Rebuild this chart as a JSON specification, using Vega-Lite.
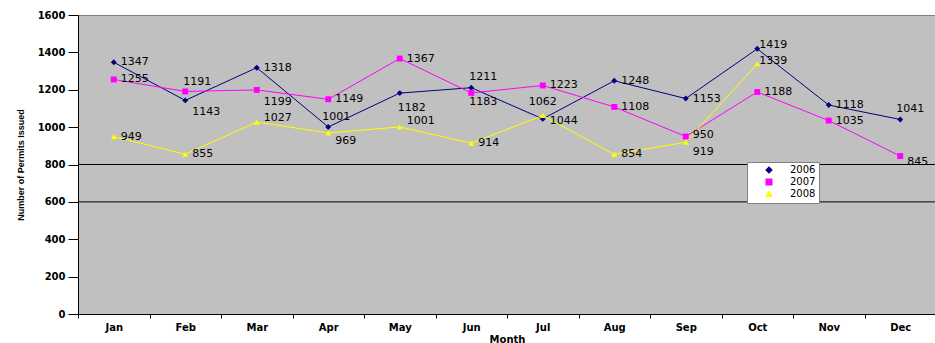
{
  "$schema": "https://vega.github.io/schema/vega-lite/v6.json",
  "autosize": "none",
  "width": 858,
  "height": 299,
  "padding": {"left": 78, "top": 15, "right": 0, "bottom": 29},
  "background": "white",
  "config": {
    "view": {"fill": "#C0C0C0", "stroke": "#808080"},
    "font": "Liberation Sans",
    "axisY": {
      "title": "Number of Permits Issued",
      "values": [0,200,400,600,800,1000,1200,1400,1600],
      "format": "d",
      "labelOverlap": false,
      "labelFlush": false,
      "grid": false,
      "tickSize": 10,
      "tickColor": "black",
      "domainColor": "black",
      "labelFont": "DejaVu Sans",
      "labelFontWeight": "bold",
      "labelFontSize": 10,
      "labelColor": "black",
      "labelPadding": 3,
      "titleFont": "Liberation Sans",
      "titleFontWeight": "bold",
      "titleFontSize": 9,
      "titleColor": "black",
      "titlePadding": 12
    }
  },
  "datasets": {
    "permits": [
      {"month": "Jan", "year": "2006", "value": 1347},
      {"month": "Feb", "year": "2006", "value": 1143},
      {"month": "Mar", "year": "2006", "value": 1318},
      {"month": "Apr", "year": "2006", "value": 1001},
      {"month": "May", "year": "2006", "value": 1182},
      {"month": "Jun", "year": "2006", "value": 1211},
      {"month": "Jul", "year": "2006", "value": 1044},
      {"month": "Aug", "year": "2006", "value": 1248},
      {"month": "Sep", "year": "2006", "value": 1153},
      {"month": "Oct", "year": "2006", "value": 1419},
      {"month": "Nov", "year": "2006", "value": 1118},
      {"month": "Dec", "year": "2006", "value": 1041},
      {"month": "Jan", "year": "2007", "value": 1255},
      {"month": "Feb", "year": "2007", "value": 1191},
      {"month": "Mar", "year": "2007", "value": 1199},
      {"month": "Apr", "year": "2007", "value": 1149},
      {"month": "May", "year": "2007", "value": 1367},
      {"month": "Jun", "year": "2007", "value": 1183},
      {"month": "Jul", "year": "2007", "value": 1223},
      {"month": "Aug", "year": "2007", "value": 1108},
      {"month": "Sep", "year": "2007", "value": 950},
      {"month": "Oct", "year": "2007", "value": 1188},
      {"month": "Nov", "year": "2007", "value": 1035},
      {"month": "Dec", "year": "2007", "value": 845},
      {"month": "Jan", "year": "2008", "value": 949},
      {"month": "Feb", "year": "2008", "value": 855},
      {"month": "Mar", "year": "2008", "value": 1027},
      {"month": "Apr", "year": "2008", "value": 969},
      {"month": "May", "year": "2008", "value": 1001},
      {"month": "Jun", "year": "2008", "value": 914},
      {"month": "Jul", "year": "2008", "value": 1062},
      {"month": "Aug", "year": "2008", "value": 854},
      {"month": "Sep", "year": "2008", "value": 919},
      {"month": "Oct", "year": "2008", "value": 1339}
    ],
    "grid": [{"level": 800}, {"level": 600}]
  },
  "encoding": {
    "x": {
      "field": "month",
      "type": "nominal",
      "sort": ["Jan","Feb","Mar","Apr","May","Jun","Jul","Aug","Sep","Oct","Nov","Dec"],
      "scale": {"type": "band", "domain": ["Jan","Feb","Mar","Apr","May","Jun","Jul","Aug","Sep","Oct","Nov","Dec"], "paddingInner": 0, "paddingOuter": 0},
      "axis": {
        "title": "Month",
        "labelAngle": 0,
        "tickBand": "extent",
        "tickSize": 4,
        "tickColor": "black",
        "domainColor": "black",
        "labelFont": "DejaVu Sans",
        "labelFontWeight": "bold",
        "labelFontSize": 10,
        "labelColor": "black",
        "labelPadding": 4,
        "titleFont": "DejaVu Sans",
        "titleFontWeight": "bold",
        "titleFontSize": 10,
        "titleColor": "black",
        "titlePadding": 2,
        "grid": false
      }
    }
  },
  "layer": [
    {
      "data": {"name": "permits"},
      "mark": {"type": "line", "strokeWidth": 1},
      "encoding": {
        "y": {
          "field": "value",
          "type": "quantitative",
          "title": "Number of Permits Issued",
          "scale": {"domain": [0, 1600], "nice": false}
        },
        "color": {
          "field": "year",
          "type": "nominal",
          "scale": {"domain": ["2006","2007","2008"], "range": ["#000080","#FF00FF","#FFFF00"]},
          "legend": {
            "title": null,
            "orient": "none",
            "legendX": 669,
            "legendY": 147,
            "fillColor": "white",
            "strokeColor": "#808080",
            "padding": 3,
            "rowPadding": 0,
            "labelFont": "DejaVu Sans",
            "labelFontSize": 10,
            "labelColor": "black",
            "labelOffset": 16,
            "symbolSize": 30,
            "symbolOffset": 14
          }
        }
      }
    },
    {
      "data": {"name": "grid"},
      "mark": {"type": "rule", "color": "black", "strokeWidth": 1},
      "encoding": {
        "x": null,
        "y": {"field": "level", "type": "quantitative"}
      }
    },
    {
      "data": {"name": "permits"},
      "mark": {"type": "point", "filled": true, "opacity": 1, "size": 35},
      "encoding": {
        "y": {"field": "value", "type": "quantitative"},
        "color": {
          "field": "year",
          "type": "nominal"
        },
        "shape": {
          "field": "year",
          "type": "nominal",
          "scale": {"domain": ["2006","2007","2008"], "range": ["diamond","square","triangle-up"]}
        }
      }
    },
    {
      "data": {"name": "permits"},
      "mark": {
        "type": "text", "align": "left", "baseline": "middle",
        "dx": {"expr": "({'2006Jun':-2,'2006Apr':-6,'2006May':-2,'2008Jul':-14,'2007Jun':-2,'2007Feb':-2,'2006Oct':2,'2008Oct':2,'2006Dec':-4})[datum.year + datum.month] || 7"},
        "dy": {"expr": "({'2006Feb':12,'2006May':15,'2006Jun':-11,'2006Apr':-10,'2006Oct':-4,'2007Feb':-9,'2007Mar':12,'2007Jun':9,'2007Dec':6,'2008Mar':-4,'2008Apr':8,'2008May':-6,'2008Jul':-14,'2008Sep':10,'2008Oct':-3,'2006Jul':2,'2007Sep':-1,'2006Dec':-10})[datum.year + datum.month] || 0"},
        "font": "DejaVu Sans", "fontSize": 11, "color": "black"
      },
      "encoding": {
        "y": {"field": "value", "type": "quantitative"},
        "text": {"field": "value", "type": "quantitative", "format": "d"}
      }
    }
  ]
}
